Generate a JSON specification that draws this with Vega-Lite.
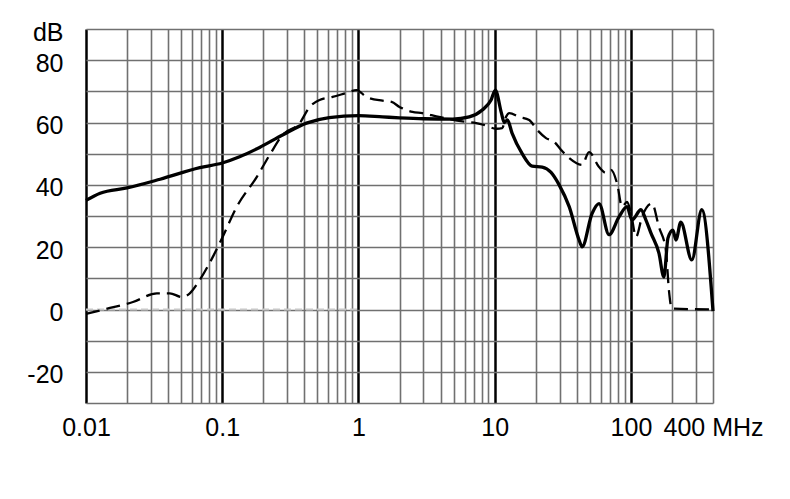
{
  "$schema": "https://vega.github.io/schema/vega-lite/v6.json",
  "autosize": {"type": "none"},
  "padding": {"left": 86, "top": 29, "right": 77, "bottom": 96},
  "width": 627,
  "height": 374,
  "background": "white",
  "config": {"view": {"stroke": null}, "font": "Liberation Sans"},
  "datasets": {
    "solid": [
      {"f": 0.01, "db": 35}, {"f": 0.0127, "db": 37.3}, {"f": 0.02, "db": 39}, {"f": 0.035, "db": 41.8},
      {"f": 0.0684, "db": 45.5}, {"f": 0.1, "db": 47}, {"f": 0.134, "db": 49}, {"f": 0.188, "db": 52},
      {"f": 0.277, "db": 56}, {"f": 0.415, "db": 59.8}, {"f": 0.61, "db": 61.6}, {"f": 1.0, "db": 62.2},
      {"f": 1.5, "db": 61.8}, {"f": 2.0, "db": 61.5}, {"f": 3.0, "db": 61.2}, {"f": 4.9, "db": 61.1},
      {"f": 6.5, "db": 61.8}, {"f": 8.1, "db": 64}, {"f": 9.4, "db": 67.2}, {"f": 10.1, "db": 70.4},
      {"f": 11.2, "db": 63}, {"f": 11.75, "db": 60}, {"f": 12.4, "db": 60.8}, {"f": 13.4, "db": 56.6},
      {"f": 15.9, "db": 50}, {"f": 18.8, "db": 46}, {"f": 22.3, "db": 45.7}, {"f": 25.9, "db": 44},
      {"f": 29.7, "db": 40}, {"f": 35.2, "db": 33}, {"f": 41.6, "db": 22.3}, {"f": 43.8, "db": 20.1},
      {"f": 51.8, "db": 30.8}, {"f": 58.3, "db": 34}, {"f": 69.0, "db": 24}, {"f": 81.7, "db": 29.7},
      {"f": 93.5, "db": 33}, {"f": 101.7, "db": 28.7}, {"f": 118.4, "db": 32}, {"f": 128.8, "db": 28.7},
      {"f": 140.2, "db": 24.5}, {"f": 160.4, "db": 18.1}, {"f": 174.5, "db": 10.4}, {"f": 186.8, "db": 22.9},
      {"f": 203.2, "db": 25.5}, {"f": 213.8, "db": 22.3}, {"f": 232.1, "db": 28}, {"f": 279.6, "db": 15.9},
      {"f": 331, "db": 32}, {"f": 400, "db": -0.5}
    ],
    "dashed": [
      {"f": 0.01, "db": -1.4}, {"f": 0.015, "db": 0.5}, {"f": 0.0221, "db": 2.4}, {"f": 0.0331, "db": 5.2},
      {"f": 0.0412, "db": 5.2}, {"f": 0.0505, "db": 4}, {"f": 0.0578, "db": 5.2}, {"f": 0.0684, "db": 9.5},
      {"f": 0.0851, "db": 16.8}, {"f": 0.1, "db": 23}, {"f": 0.128, "db": 33}, {"f": 0.179, "db": 42.5},
      {"f": 0.223, "db": 49.6}, {"f": 0.277, "db": 56}, {"f": 0.37, "db": 59.8}, {"f": 0.438, "db": 65},
      {"f": 0.518, "db": 67.2}, {"f": 0.645, "db": 68.2}, {"f": 0.817, "db": 69.5}, {"f": 0.967, "db": 70.4},
      {"f": 1.146, "db": 68.2}, {"f": 1.5, "db": 67}, {"f": 1.75, "db": 66.6}, {"f": 2.0, "db": 65},
      {"f": 2.49, "db": 63.4}, {"f": 2.94, "db": 63}, {"f": 3.73, "db": 62}, {"f": 4.64, "db": 61.1},
      {"f": 6.18, "db": 60.2}, {"f": 7.31, "db": 59.8}, {"f": 8.37, "db": 59.2}, {"f": 10.26, "db": 58},
      {"f": 11.35, "db": 58.2}, {"f": 12.1, "db": 61.8}, {"f": 12.8, "db": 63}, {"f": 15.1, "db": 61.8},
      {"f": 17.9, "db": 60.8}, {"f": 20.5, "db": 57.6}, {"f": 23.8, "db": 55}, {"f": 27.3, "db": 53.8},
      {"f": 30.7, "db": 51.2}, {"f": 35.2, "db": 48.6}, {"f": 43.8, "db": 46.4}, {"f": 49.2, "db": 50.5},
      {"f": 58.3, "db": 45.7}, {"f": 65.6, "db": 43.8}, {"f": 71.3, "db": 44.8}, {"f": 79.5, "db": 40},
      {"f": 85.9, "db": 33}, {"f": 93.5, "db": 34.5}, {"f": 100, "db": 31}, {"f": 108.9, "db": 23.3},
      {"f": 120.5, "db": 29.7}, {"f": 142.6, "db": 34}, {"f": 160.4, "db": 26.5}, {"f": 180.4, "db": 19},
      {"f": 189.8, "db": 6.3}, {"f": 199.5, "db": 0.3}, {"f": 400, "db": 0}
    ],
    "zero": [{"f": 0.01, "db": 0}, {"f": 1, "db": 0}]
  },
  "encoding": {
    "x": {
      "field": "f", "type": "quantitative",
      "scale": {"type": "log", "domain": [0.01, 400], "nice": false},
      "axis": {
        "title": null, "domain": false, "ticks": false,
        "values": [0.01,0.02,0.03,0.04,0.05,0.06,0.07,0.08,0.09,0.1,0.2,0.3,0.4,0.5,0.6,0.7,0.8,0.9,1,2,3,4,5,6,7,8,9,10,20,30,40,50,60,70,80,90,100,200,300,400],
        "labelExpr": "datum.value == 0.01 ? '0.01' : datum.value == 0.1 ? '0.1' : datum.value == 1 ? '1' : datum.value == 10 ? '10' : datum.value == 100 ? '100' : datum.value == 400 ? '400 MHz' : ''",
        "labelFontSize": 25, "labelColor": "black", "labelPadding": 12,
        "labelOverlap": false, "labelFlush": false, "labelBound": false,
        "grid": true,
        "gridColor": {"condition": {"test": "indexof([0.01,0.1,1,10,100], datum.value) >= 0", "value": "black"}, "value": "#707070"},
        "gridWidth": {"condition": {"test": "indexof([0.01,0.1,1,10,100], datum.value) >= 0", "value": 2.5}, "value": 1.6}
      }
    },
    "y": {
      "field": "db", "type": "quantitative",
      "scale": {"domain": [-30, 90], "nice": false, "zero": false},
      "axis": {
        "title": null, "domain": false, "ticks": false,
        "values": [-30,-20,-10,0,10,20,30,40,50,60,70,80,90],
        "labelExpr": "datum.value == 90 ? 'dB' : datum.value == 80 ? '80' : datum.value == 60 ? '60' : datum.value == 40 ? '40' : datum.value == 20 ? '20' : datum.value == 0 ? '0' : datum.value == -20 ? '-20' : ''",
        "labelFontSize": 25, "labelColor": "black", "labelPadding": 23, "labelOffset": 3,
        "labelBound": false, "labelFlush": false, "labelOverlap": false,
        "grid": true, "gridColor": "#707070", "gridWidth": 1.6
      }
    }
  },
  "layer": [
    {"data": {"name": "zero"}, "mark": {"type": "line", "color": "#c8c8c8", "strokeWidth": 2, "strokeDash": [7, 4]}},
    {"data": {"name": "dashed"}, "mark": {"type": "line", "color": "black", "strokeWidth": 2.3, "strokeDash": [14, 7], "interpolate": "monotone"}},
    {"data": {"name": "solid"}, "mark": {"type": "line", "color": "black", "strokeWidth": 3.3, "strokeJoin": "round", "interpolate": "monotone"}}
  ]
}
